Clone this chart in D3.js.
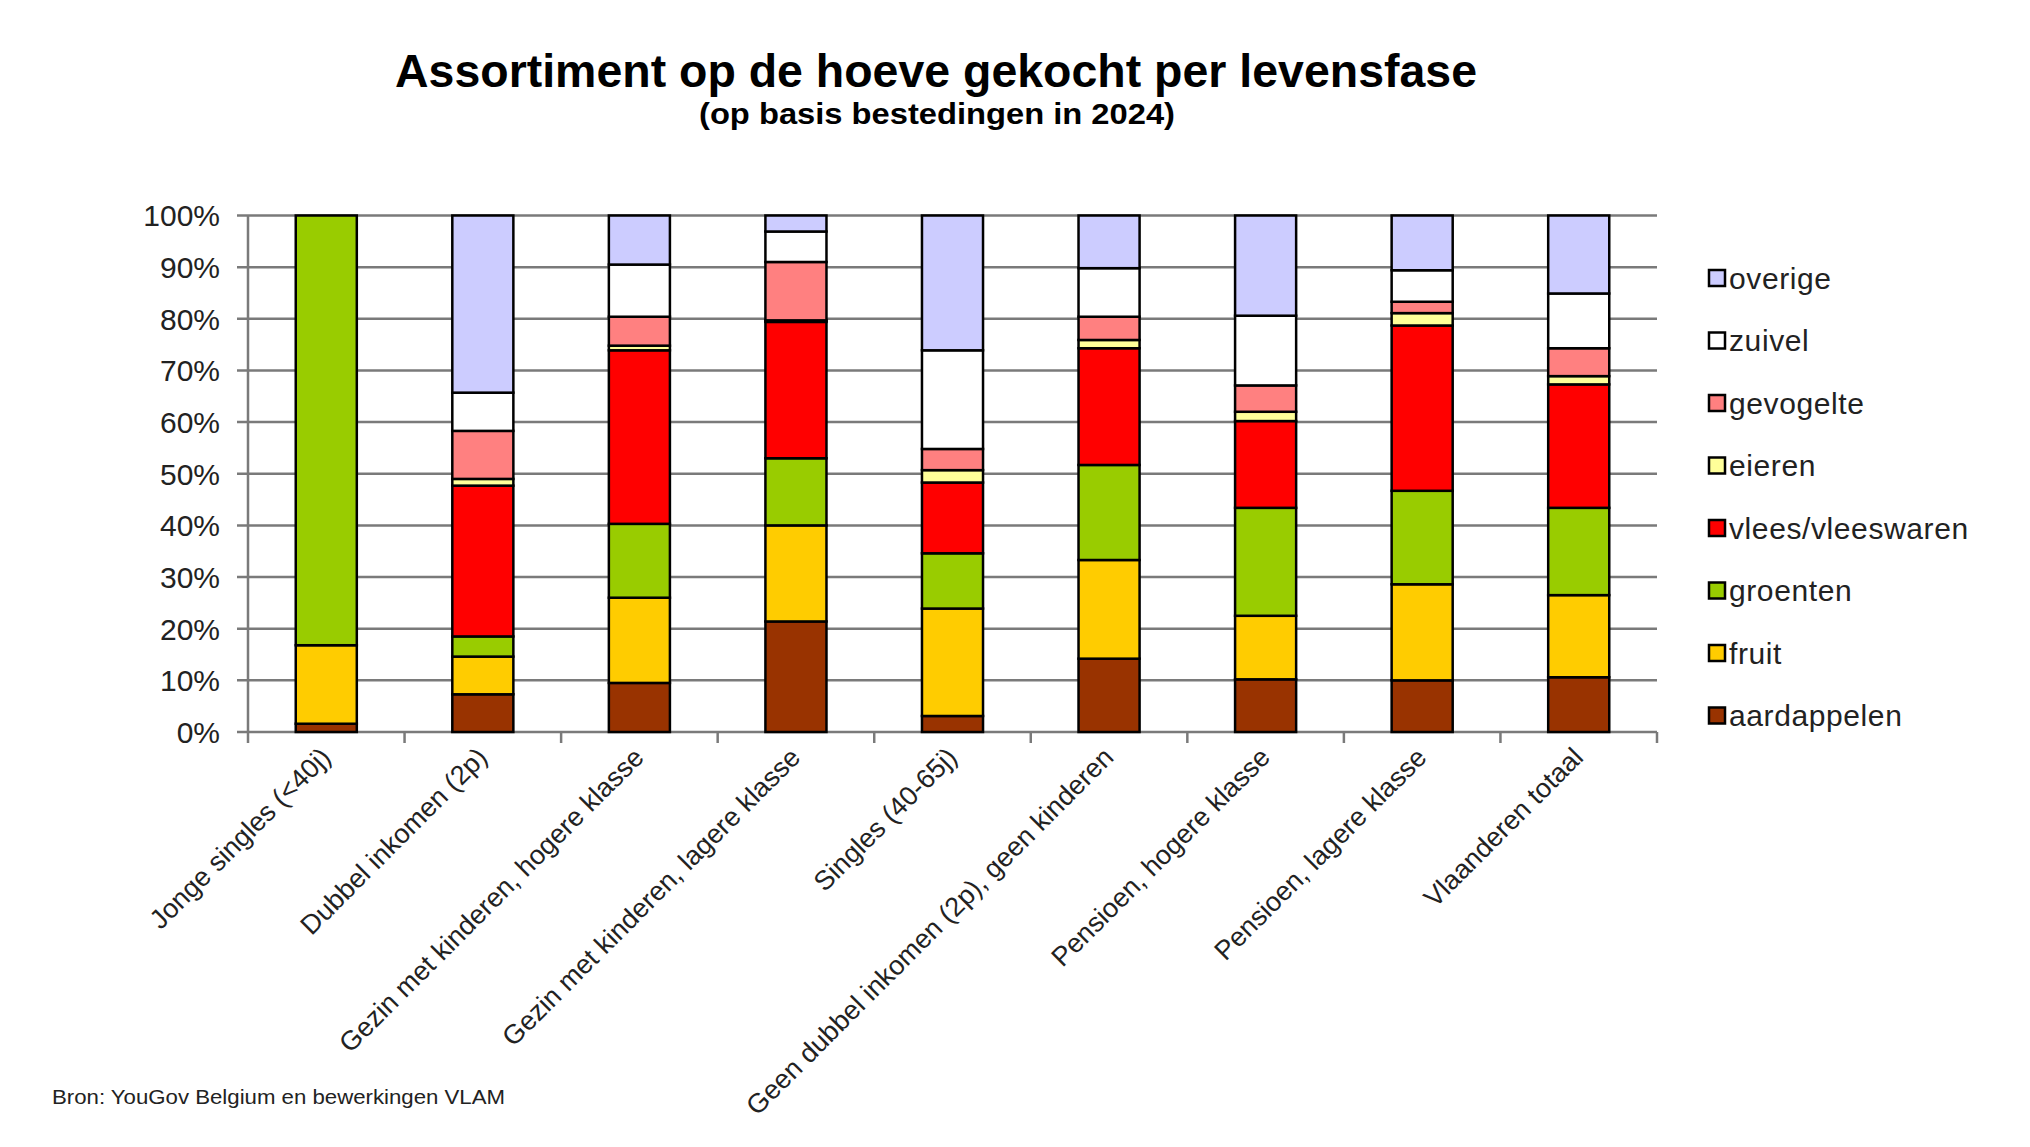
<!DOCTYPE html>
<html>
<head>
<meta charset="utf-8">
<script src="https://cdn.jsdelivr.net/npm/d3@7"></script>
<style>
  html, body { margin: 0; padding: 0; background: #fff; }
  svg { display: block; font-family: "Liberation Sans", Arial, sans-serif; }
</style>
</head>
<body>
<svg id="chart" width="2030" height="1147"></svg>
<script>
const categories = [
  "Jonge singles (<40j)",
  "Dubbel inkomen (2p)",
  "Gezin met kinderen, hogere klasse",
  "Gezin met kinderen, lagere klasse",
  "Singles (40-65j)",
  "Geen dubbel inkomen (2p), geen kinderen",
  "Pensioen, hogere klasse",
  "Pensioen, lagere klasse",
  "Vlaanderen totaal"
];
const seriesNames = ["aardappelen", "fruit", "groenten", "vlees/vleeswaren", "eieren", "gevogelte", "zuivel", "overige"];
const seriesColors = ["#993300", "#FFCC00", "#99CC00", "#FF0000", "#FFFF99", "#FF8080", "#FFFFFF", "#CCCCFF"];

const aardappelen = [1.6, 7.3, 9.5, 21.4, 3.1, 14.2, 10.2, 10.0, 10.6];
const fruit       = [15.2, 7.3, 16.5, 18.6, 20.8, 19.1, 12.3, 18.6, 15.9];
const groenten    = [83.2, 3.9, 14.3, 13.0, 10.7, 18.4, 20.9, 18.1, 16.9];
const vlees       = [0, 29.2, 33.6, 26.4, 13.7, 22.6, 16.8, 32.0, 23.9];
const eieren      = [0, 1.3, 0.9, 0.3, 2.4, 1.6, 1.8, 2.4, 1.6];
const gevogelte   = [0, 9.3, 5.6, 11.3, 4.1, 4.5, 5.1, 2.2, 5.4];
const zuivel      = [0, 7.4, 10.1, 5.9, 19.1, 9.4, 13.5, 6.1, 10.6];
const overige     = [0, 34.3, 9.5, 3.1, 26.1, 10.2, 19.4, 10.6, 15.1];

const yTicks = [0, 10, 20, 30, 40, 50, 60, 70, 80, 90, 100];

const titleText = "Assortiment op de hoeve gekocht per levensfase";
const subtitleText = "(op basis bestedingen in 2024)";
const sourceText = "Bron: YouGov Belgium en bewerkingen VLAM";

(function () {
  const seriesArrays = [aardappelen, fruit, groenten, vlees, eieren, gevogelte, zuivel, overige];
  const table = categories.map((c, i) => {
    const row = { cat: c };
    seriesNames.forEach((s, j) => row[s] = seriesArrays[j][i]);
    return row;
  });

  const svg = d3.select("#chart");
  const pLeft = 248, pRight = 1657, pTop = 215.5, pBottom = 732;

  const x = d3.scaleBand().domain(categories).range([pLeft, pRight]).paddingInner(0.61).paddingOuter(0.305);
  const y = d3.scaleLinear().domain([0, 100]).range([pBottom, pTop]);
  const color = d3.scaleOrdinal().domain(seriesNames).range(seriesColors);

  svg.append("g").selectAll("line").data(yTicks).join("line")
    .attr("x1", pLeft - 11).attr("x2", pRight)
    .attr("y1", d => y(d)).attr("y2", d => y(d))
    .attr("stroke", "#7a7a7a").attr("stroke-width", 2.5);

  svg.append("line").attr("x1", pLeft).attr("x2", pLeft).attr("y1", pTop).attr("y2", pBottom + 1)
    .attr("stroke", "#7a7a7a").attr("stroke-width", 2.5);

  svg.append("g").selectAll("text").data(yTicks).join("text")
    .attr("x", 220).attr("y", d => y(d)).attr("dy", "0.36em")
    .attr("text-anchor", "end").attr("font-size", 30).attr("fill", "#222")
    .text(d => d + "%");

  const bounds = categories.map((c, i) => pLeft + x.step() * i).concat([pRight]);
  svg.append("g").selectAll("line").data(bounds).join("line")
    .attr("x1", d => d).attr("x2", d => d).attr("y1", pBottom).attr("y2", pBottom + 11)
    .attr("stroke", "#7a7a7a").attr("stroke-width", 2.5);

  const stack = d3.stack().keys(seriesNames)(table);
  svg.append("g").selectAll("g").data(stack).join("g")
    .attr("fill", d => color(d.key))
    .selectAll("rect").data(d => d.filter(p => p[1] - p[0] > 0)).join("rect")
    .attr("x", d => x(d.data.cat))
    .attr("width", x.bandwidth())
    .attr("y", d => y(d[1]))
    .attr("height", d => y(d[0]) - y(d[1]))
    .attr("stroke", "#000").attr("stroke-width", 2.5);

  svg.append("g").selectAll("text").data(categories).join("text")
    .attr("transform", d => `translate(${x(d) + x.bandwidth() / 2 + 6},${pBottom + 27}) rotate(-45)`)
    .attr("text-anchor", "end").attr("font-size", 27).attr("fill", "#222")
    .text(d => d);

  const legendOrder = seriesNames.slice().reverse();
  const lg = svg.append("g").selectAll("g").data(legendOrder).join("g")
    .attr("transform", (d, i) => `translate(1709,${278 + i * 62.5})`);
  lg.append("rect").attr("x", 0).attr("y", -8).attr("width", 16).attr("height", 16)
    .attr("fill", d => color(d)).attr("stroke", "#000").attr("stroke-width", 2.5);
  lg.append("text").attr("x", 20).attr("y", 0).attr("dy", "0.36em")
    .attr("font-size", 30).attr("letter-spacing", 0.6).attr("fill", "#222").text(d => d);

  svg.append("text").attr("x", 936).attr("y", 87).attr("text-anchor", "middle")
    .attr("font-size", 46).attr("font-weight", "bold").attr("fill", "#000")
    .attr("textLength", 1082).attr("lengthAdjust", "spacingAndGlyphs").text(titleText);
  svg.append("text").attr("x", 937).attr("y", 124).attr("text-anchor", "middle")
    .attr("font-size", 30).attr("font-weight", "bold").attr("fill", "#000")
    .attr("textLength", 476).attr("lengthAdjust", "spacingAndGlyphs").text(subtitleText);

  svg.append("text").attr("x", 52).attr("y", 1104)
    .attr("font-size", 21).attr("fill", "#222")
    .attr("textLength", 453).attr("lengthAdjust", "spacingAndGlyphs").text(sourceText);
})();
</script>
</body>
</html>
